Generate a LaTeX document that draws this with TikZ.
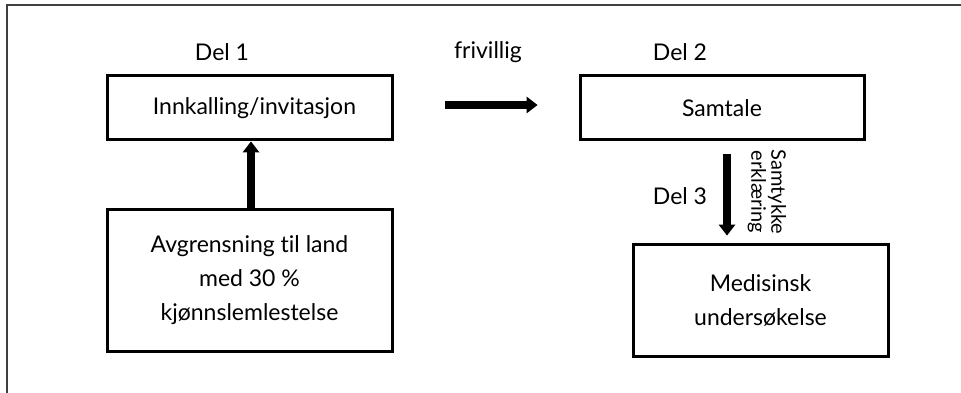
\documentclass[tikz,border=0pt]{standalone}
\usepackage{fontspec}
\setmainfont{Lato}[Ligatures=NoCommon]
\usetikzlibrary{arrows.meta,calc}
\begin{document}
\begin{tikzpicture}[x=1pt,y=-1pt,
  box/.style={draw=black,line width=3pt,inner sep=0pt,align=center,font=\fontsize{23}{34}\selectfont},
  lbl/.style={font=\fontsize{23}{26}\selectfont,inner sep=0pt},
  fatarrow/.style={line width=8pt,-{Triangle[width=17pt,length=11pt,line width=0pt]}},
  frame/.style={draw=black!75,line width=2pt}]
\useasboundingbox (0,0) rectangle (961,393);
\fill[white] (0,0) rectangle (961,393);
% frame
\coordinate (fl) at (6.5,393);
\coordinate (fc) at (6.5,5);
\coordinate (fr) at (961,5);
\draw[frame] (fl) -- (fc) -- (fr);
% boxes
\node[box,minimum width=285pt,minimum height=64pt] (inn) at (249.5,108) {\hspace*{10pt}Innkalling/invitasjon};
\node[box,minimum width=285pt,minimum height=142pt] (avg) at (249.5,280) {Avgrensning til land\\med 30 \%\\kjønnslemlestelse};
\node[box,minimum width=284pt,minimum height=64pt] (sam) at (722,108) {Samtale};
\node[box,minimum width=255pt,minimum height=112pt] (med) at (760.5,300) {Medisinsk\\undersøkelse};
% labels
\node[lbl] (d1) at (222,52) {Del 1};
\node[lbl] (fri) at (488,52) {frivillig};
\node[lbl] (d2) at (680,52) {Del 2};
\node[lbl] (d3) at (680,196) {Del 3};
\node[align=center,inner sep=0pt,rotate=-90,font=\fontsize{20}{20}\selectfont] (sk) at (767,192) {Samtykke\\erklæring};
% arrows
\coordinate (ux) at (251,0);
\coordinate (dx) at (727,0);
\draw[fatarrow] (avg.north -| ux) -- (inn.south -| ux);
\draw[fatarrow,shorten <=51pt,shorten >=41pt] ([yshift=3pt]inn.east) -- ([yshift=3pt]sam.west);
\draw[fatarrow,shorten <=13pt,shorten >=7pt] (sam.south -| dx) -- (med.north -| dx);
\end{tikzpicture}
\end{document}
